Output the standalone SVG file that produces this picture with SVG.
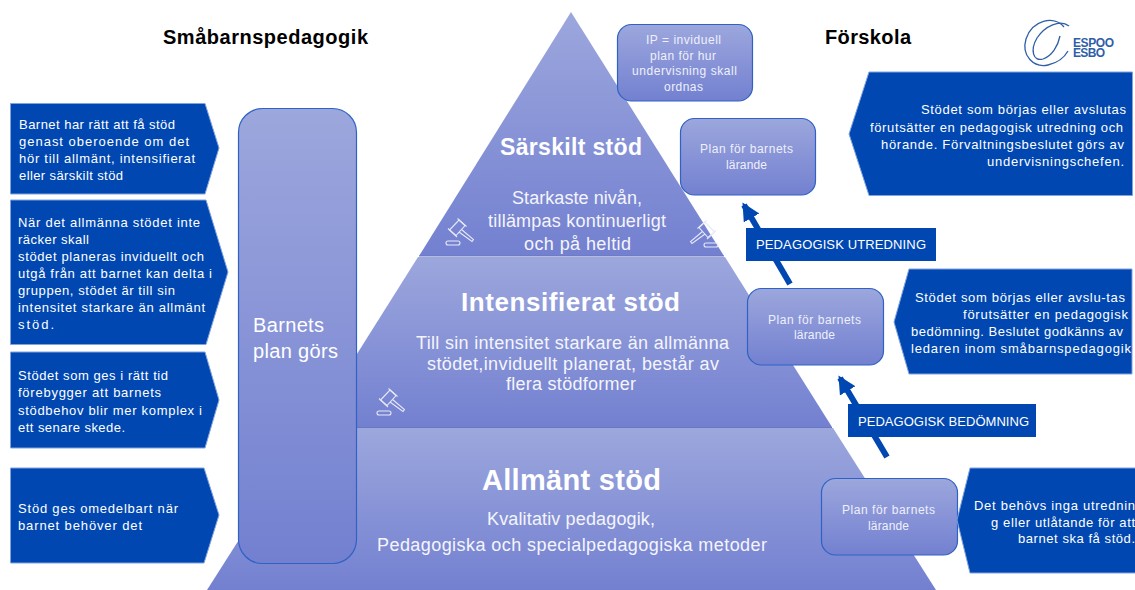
<svg xmlns="http://www.w3.org/2000/svg" xmlns:xlink="http://www.w3.org/1999/xlink" width="1135" height="590" viewBox="0 0 1135 590">
<style>
text{font-family:"Liberation Sans",Arial,sans-serif;fill:#fff}
.s{font-size:13px}
.b{font-size:12px;fill:#eef0fb;text-anchor:start}
.m{font-size:18px;fill:#f4f5fc}
.h{font-weight:bold}
.t{font-weight:bold;font-size:20px;fill:#000}
.tier{stroke:none}
.card{fill:url(#g);stroke:#2f62c4;stroke-width:1.2}
.ar{fill:#0047b2;stroke:#7fa3de;stroke-width:1}
.lab{fill:#0047b2}
.cn{stroke:#0047b2;stroke-width:6;fill:none;marker-end:url(#head)}
.gv{fill:none;stroke:#e6e9f8;stroke-width:1.1}
</style>
<defs>
<linearGradient id="g" x1="0" y1="0" x2="0" y2="1"><stop offset="0" stop-color="#9ca7dd"/><stop offset="1" stop-color="#7380d0"/></linearGradient>
<marker id="head" markerUnits="userSpaceOnUse" markerWidth="22" markerHeight="22" refX="15" refY="9" orient="auto"><path d="M0 0L18 9L0 18Z" fill="#0047b2"/></marker>
<g id="gavel">
<rect x="0" y="24" width="14" height="4" rx="2"/>
<path d="M3.500 13L13 3L19 8.500L10 18.500Z"/>
<path d="M13 15L26 24.500L27.500 22.500L15.500 12.500"/>
<path d="M11.500 1.500L20.500 9.500M2 11.500L11 20"/>
</g>
</defs>
<g id="pyramid">
<path class="tier" fill="url(#g)" d="M571 12L724 256H419Z"/>
<path class="tier" fill="url(#g)" d="M418 257H725L832 427H311Z"/>
<path class="tier" fill="url(#g)" d="M310 428H833L936 590H207Z"/>
<path d="M419 256H724M311 427.500H832" stroke="#6a78bd" stroke-width="1" fill="none"/>
<use href="#gavel" class="gv" x="446" y="217"/>
<use href="#gavel" class="gv" transform="translate(718 219) scale(-1 1)"/>
<use href="#gavel" class="gv" x="377" y="387"/>
<text class="h" x="500" y="155" font-size="23" textLength="142">Särskilt stöd</text>
<text class="m" x="512" y="204" textLength="130">Starkaste nivån,</text>
<text class="m" x="488" y="227" textLength="178">tillämpas kontinuerligt</text>
<text class="m" x="524" y="250" textLength="107">och på heltid</text>
<text class="h" x="461" y="311" font-size="26" textLength="219">Intensifierat stöd</text>
<text class="m" x="416" y="349" textLength="313">Till sin intensitet starkare än allmänna</text>
<text class="m" x="427" y="370" textLength="292">stödet,inviduellt planerat, består av</text>
<text class="m" x="506" y="390" textLength="130">flera stödformer</text>
<text class="h" x="482" y="490" font-size="29" textLength="179">Allmänt stöd</text>
<text class="m" x="487" y="525" textLength="168">Kvalitativ pedagogik,</text>
<text class="m" x="377" y="551" textLength="390">Pedagogiska och specialpedagogiska metoder</text>
</g>
<g id="connectors">
<path class="cn" d="M790 284L744 205"/>
<path class="cn" d="M887 457L840 378"/>
</g>
<g id="title-left"><text class="t" x="163" y="44" textLength="205">Småbarnspedagogik</text></g>
<g id="title-right"><text class="t" x="825" y="44" textLength="86">Förskola</text></g>
<g id="logo">
<path d="M1064 27C1054 15 1032 20 1026 39C1021 56 1034 68 1048 65C1057 63 1064 58 1068 51" fill="none" stroke="#2f5ea8" stroke-width="1.300"/>
<path d="M1069 26C1060 19 1045 26 1037 38C1030 50 1033 62 1043 59C1052 56 1058 46 1060 36" fill="none" stroke="#2f5ea8" stroke-width="1.300"/>
<text x="1073" y="47" font-size="12" font-weight="bold" style="fill:#2f5ea8" textLength="41">ESPOO</text>
<text x="1073" y="57" font-size="12" font-weight="bold" style="fill:#2f5ea8" textLength="32">ESBO</text>
</g>
<g id="left-1"><path class="ar" d="M10.500 103.500H205L219 148L205 194H10.500Z"/>
<text class="s" x="19" y="129" textLength="156">Barnet har rätt att få stöd</text>
<text class="s" x="19" y="146" textLength="170">genast oberoende om det</text>
<text class="s" x="19" y="163" textLength="176">hör till allmänt, intensifierat</text>
<text class="s" x="19" y="180" textLength="104">eller särskilt stöd</text></g>
<g id="left-2"><path class="ar" d="M10.500 200H206L228 272L206 344.500H10.500Z"/>
<text class="s" x="18" y="227" textLength="182">När det allmänna stödet inte</text>
<text class="s" x="18" y="244" textLength="71">räcker skall</text>
<text class="s" x="18" y="261" textLength="186">stödet planeras inviduellt och</text>
<text class="s" x="18" y="278" textLength="194">utgå från att barnet kan delta i</text>
<text class="s" x="18" y="295" textLength="157">gruppen, stödet är till sin</text>
<text class="s" x="18" y="312" textLength="187">intensitet starkare än allmänt</text>
<text class="s" x="18" y="329" textLength="36">stöd.</text></g>
<g id="left-3"><path class="ar" d="M10.500 352H205L219 400L205 448H10.500Z"/>
<text class="s" x="18" y="380" textLength="150">Stödet som ges i rätt tid</text>
<text class="s" x="18" y="397" textLength="143">förebygger att barnets</text>
<text class="s" x="18" y="415" textLength="184">stödbehov blir mer komplex i</text>
<text class="s" x="18" y="432" textLength="107">ett senare skede.</text></g>
<g id="left-4"><path class="ar" d="M10.500 468H204L219 515L204 563H10.500Z"/>
<text class="s" x="18" y="513" textLength="160">Stöd ges omedelbart när</text>
<text class="s" x="18" y="530" textLength="124">barnet behöver det</text></g>
<g id="barnets-plan"><rect class="card" x="238.500" y="108.500" width="118" height="455" rx="24"/>
<text x="253" y="332" font-size="20" fill="#f4f5fc" textLength="71">Barnets</text>
<text x="253" y="358" font-size="20" fill="#f4f5fc" textLength="85">plan görs</text></g>
<g id="ip-box"><rect class="card" x="617.500" y="24.500" width="135" height="76.500" rx="14"/>
<text class="b" x="646" y="44" textLength="75">IP = inviduell</text>
<text class="b" x="650" y="60" textLength="66">plan för hur</text>
<text class="b" x="632" y="75" textLength="105">undervisning skall</text>
<text class="b" x="664" y="91" textLength="39">ordnas</text></g>
<g id="plan-1"><rect class="card" x="680.500" y="118.500" width="135" height="76.500" rx="14"/>
<text class="b" x="700" y="153" textLength="93">Plan för barnets</text>
<text class="b" x="726" y="169" textLength="41">lärande</text></g>
<g id="plan-2"><rect class="card" x="747.500" y="288.500" width="136" height="76.500" rx="14"/>
<text class="b" x="768" y="324" textLength="93">Plan för barnets</text>
<text class="b" x="794" y="339" textLength="41">lärande</text></g>
<g id="plan-3"><rect class="card" x="821.500" y="478.500" width="136" height="76.500" rx="14"/>
<text class="b" x="842" y="514" textLength="93">Plan för barnets</text>
<text class="b" x="868" y="530" textLength="41">lärande</text></g>
<g id="label-utredning"><rect class="lab" x="746" y="228" width="190" height="33"/>
<text class="s" x="756" y="249" textLength="170">PEDAGOGISK UTREDNING</text></g>
<g id="label-bedomning"><rect class="lab" x="848" y="404" width="188" height="33"/>
<text class="s" x="858" y="426" textLength="171">PEDAGOGISK BEDÖMNING</text></g>
<g id="right-1"><path class="ar" d="M1132.500 72H869L849 134L869 195.500H1132.500Z"/>
<text class="s" x="921" y="114" textLength="205">Stödet som börjas eller avslutas</text>
<text class="s" x="870" y="132" textLength="253">förutsätter en pedagogisk utredning och</text>
<text class="s" x="881" y="149" textLength="243">hörande. Förvaltningsbeslutet görs av</text>
<text class="s" x="987" y="166" textLength="137">undervisningschefen.</text></g>
<g id="right-2"><path class="ar" d="M1132 269H909L894 322L909 374H1132Z"/>
<text class="s" x="915" y="302" textLength="210">Stödet som börjas eller avslu-tas</text>
<text class="s" x="963" y="319" textLength="165">förutsätter en pedagogisk</text>
<text class="s" x="911" y="336" textLength="212">bedömning. Beslutet godkänns av</text>
<text class="s" x="911" y="353" textLength="220">ledaren inom småbarnspedagogik</text></g>
<g id="right-3"><path class="ar" d="M1136 468H970L957 520L970 573H1136Z"/>
<text class="s" x="974" y="510" textLength="161">Det behövs inga utrednin</text>
<text class="s" x="991" y="527" textLength="144">g eller utlåtande för att</text>
<text class="s" x="1018" y="543" textLength="117">barnet ska få stöd.</text></g>
</svg>
